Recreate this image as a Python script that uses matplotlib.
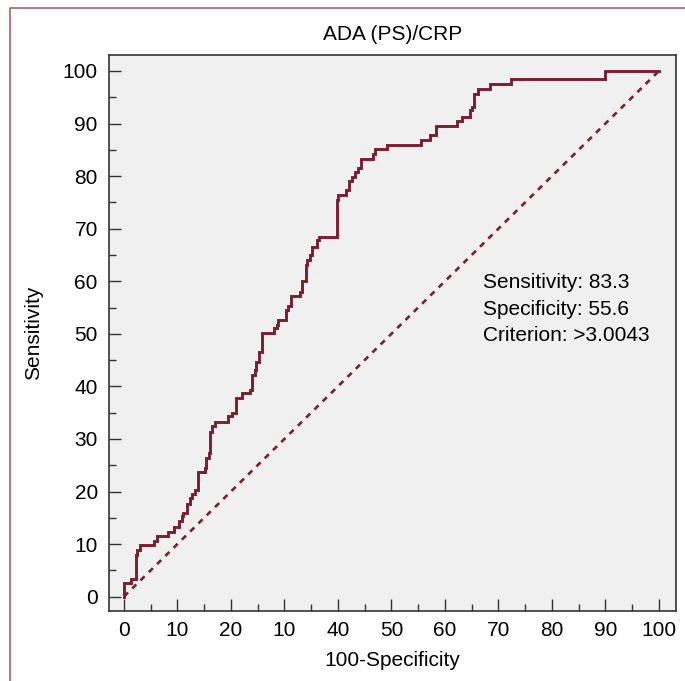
import numpy as np
import matplotlib
matplotlib.use("Agg")
import matplotlib.pyplot as plt
from matplotlib.lines import Line2D

plt.rcParams["font.family"] = ["Liberation Sans", "DejaVu Sans"]

# corner points of the empirical ROC curve (top of each rise)
fpr = [0, 0, 1.3, 2.2, 2.5, 3.1, 5.7, 6.2, 8.2, 9.3, 10.3, 10.9, 11.1, 11.7,
       12.3, 12.7, 13.2, 13.9, 15.1, 15.4, 15.9, 16.1, 16.5, 17.0, 19.4, 20.2,
       21.0, 22.0, 23.6, 23.9, 24.5, 24.7, 25.3, 25.9, 28.1, 28.7, 28.8, 30.3,
       30.7, 31.2, 32.9, 33.3, 34.0, 34.3, 34.8, 35.2, 36.0, 36.4, 39.8, 40.1,
       41.6, 42.1, 42.6, 43.2, 43.8, 44.4, 46.5, 46.9, 49.1, 55.6, 57.3, 58.3,
       62.3, 63.1, 64.7, 65.1, 65.5, 66.1, 68.5, 72.3, 89.9, 100]
tpr = [0, 2.6, 3.4, 8.0, 8.9, 9.9, 10.5, 11.5, 12.3, 13.2, 14.3, 15.4, 16.0,
       17.7, 18.8, 19.6, 20.3, 23.7, 24.5, 26.4, 27.4, 31.4, 32.4, 33.3, 34.3,
       35.0, 37.7, 38.7, 39.4, 42.2, 43.2, 44.7, 46.6, 50.1, 51.1, 51.7, 52.7,
       54.6, 55.3, 57.1, 58.0, 60.0, 63.1, 64.1, 65.0, 66.6, 67.9, 68.5, 75.5,
       76.4, 77.4, 79.0, 79.9, 80.7, 81.5, 83.3, 84.2, 85.2, 86.0, 86.8, 87.8,
       89.6, 90.4, 91.2, 92.6, 93.2, 95.6, 96.6, 97.5, 98.5, 100, 100]

x_ticks = [0, 10, 20, 30, 40, 50, 60, 70, 80, 90, 100]
x_tick_labels = ["0", "10", "20", "10", "40", "50", "60", "70", "80", "90", "100"]
y_ticks = [0, 10, 20, 30, 40, 50, 60, 70, 80, 90, 100]

stats_text = "Sensitivity: 83.3\nSpecificity: 55.6\nCriterion: >3.0043"

line_col = "#7a1f2d"
spine_col = "#333333"
fs = 15

fig = plt.figure(figsize=(6.85, 6.81), dpi=100)
ax = fig.add_axes([0.159, 0.103, 0.828, 0.816])
ax.set_facecolor("#f0f0f0")

# thin panel border: left and top edges only
bx, by = 9.5 / 685, 1 - 8 / 681
fig.add_artist(Line2D([bx, bx, 1.01], [-0.01, by, by], transform=fig.transFigure,
                      color="#a8616d", linewidth=1.2))

ax.plot([0, 100], [0, 100], color=line_col, linewidth=1.9,
        linestyle=(0, (2.2, 2.2)))
ax.plot(fpr, tpr, color=line_col, linewidth=2.1, drawstyle="steps-post",
        solid_joinstyle="miter")

ax.set_xlim(-2.8, 103.2)
ax.set_ylim(-2.7, 103.0)

ax.set_xticks(x_ticks)
ax.set_xticklabels(x_tick_labels)
ax.set_yticks(y_ticks)
ax.set_xticks(np.arange(5, 100, 10), minor=True)
ax.set_yticks(np.arange(5, 100, 10), minor=True)
ax.tick_params(which="major", direction="in", length=8.6, width=1.0,
               color=spine_col, labelsize=fs, pad=7)
ax.tick_params(which="minor", direction="in", length=5, width=1.0,
               color=spine_col)
ax.tick_params(axis="y", pad=8)
for sp in ax.spines.values():
    sp.set_color(spine_col)
    sp.set_linewidth(1.2)

ax.set_title("ADA (PS)/CRP", fontsize=fs, pad=11)
ax.set_xlabel("100-Specificity", fontsize=fs, labelpad=8)
ax.set_ylabel("Sensitivity", fontsize=fs, labelpad=14)

ax.text(67.1, 61.5, stats_text, fontsize=fs, va="top", ha="left",
        linespacing=1.5)

fig.savefig("out.png", dpi=100, facecolor="white")
